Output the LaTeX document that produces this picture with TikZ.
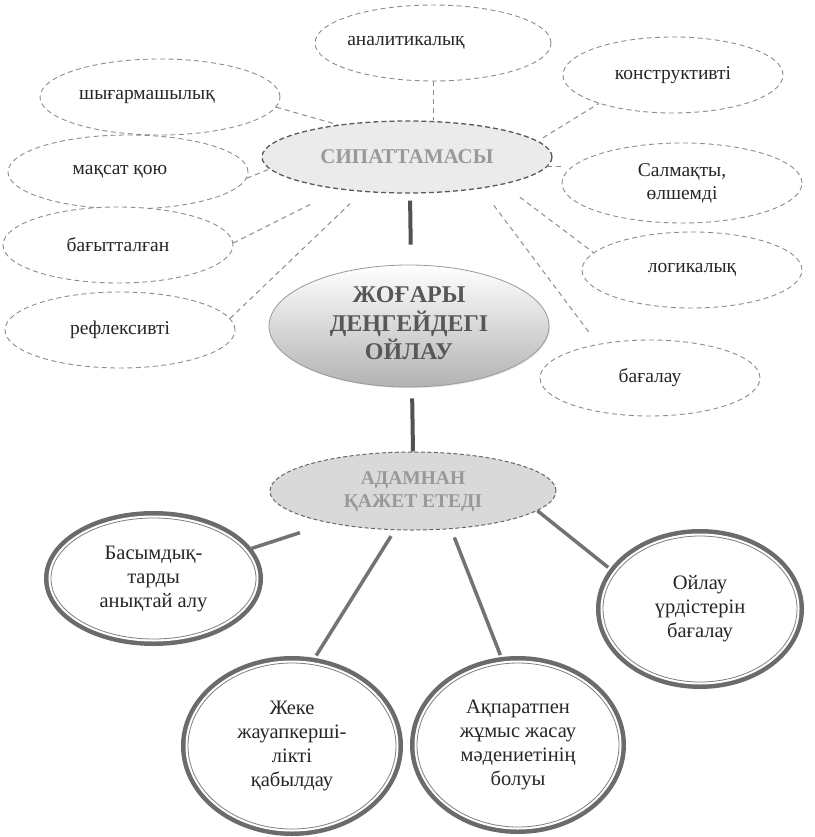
\documentclass[tikz,border=0pt]{standalone}
\usepackage{fontspec}
\setmainfont{Liberation Serif}
\newfontfamily\kzserif[Script=Cyrillic]{Liberation Serif}
\usetikzlibrary{shapes.geometric,shadows}
\begin{document}
\begin{tikzpicture}[x=1pt,y=-1pt,
  small/.style={ellipse, draw=black!45, dash pattern=on 5pt off 3.5pt, line width=0.9pt,
    fill=white, inner sep=0pt, align=center, text=black!85,
    font=\kzserif\fontsize{19.5}{23}\selectfont},
  sip/.style={ellipse, draw=black!65, dash pattern=on 5pt off 3pt, line width=1.3pt,
    fill=black!8, inner sep=0pt, align=center, text=black!40,
    font=\kzserif\fontsize{21}{24}\selectfont\bfseries},
  cen/.style={ellipse, draw=black!40, line width=0.8pt, top color=white, bottom color=black!30,
    drop shadow={shadow xshift=1pt, shadow yshift=-1.2pt, opacity=0.2},
    inner sep=0pt, align=center, text=black!66,
    font=\kzserif\fontsize{24}{27}\selectfont\bfseries},
  adm/.style={ellipse, draw=black!60, dash pattern=on 4pt off 2.5pt, line width=1pt,
    fill=black!15, inner sep=0pt, align=center, text=black!40,
    font=\kzserif\fontsize{19.5}{23}\selectfont\bfseries},
  dbl/.style={ellipse, inner sep=0pt, align=center, text=black!85,
    font=\kzserif\fontsize{20.5}{24}\selectfont, fill=white, draw=black!50, line width=0.8pt,
    preaction={draw=black!58, line width=14pt},
    preaction={draw=white, line width=5pt}},
  dcon/.style={draw=black!45, line width=1pt, dash pattern=on 5pt off 4pt},
  tcon/.style={draw=black!68, line width=4pt},
  bcon/.style={draw=black!55, line width=3.5pt}
]
\useasboundingbox (0,0) rectangle (814,837);

% characteristic ellipses
\node[small, minimum width=236pt, minimum height=76pt] (an) at (433,43) {\hspace*{-54pt}аналитикалық};
\node[small, minimum width=240pt, minimum height=76pt] (sh) at (160,97) {\hspace*{-26pt}шығармашылық};
\node[small, minimum width=220pt, minimum height=76pt] (ko) at (673,75) {конструктивті};
\node[small, minimum width=240pt, minimum height=74pt] (mq) at (128,172) {\hspace*{-16pt}мақсат қою};
\node[small, minimum width=240pt, minimum height=80pt] (sa) at (682,183) {Салмақты,\\өлшемді};
\node[small, minimum width=230pt, minimum height=76pt] (bt) at (118,245) {бағытталған};
\node[small, minimum width=220pt, minimum height=76pt] (lo) at (692,270) {логикалық};
\node[small, minimum width=230pt, minimum height=76pt] (re) at (120,330) {рефлексивті};
\node[small, minimum width=220pt, minimum height=76pt] (bg) at (650,378) {бағалау};

% main ellipses
\node[sip, minimum width=290pt, minimum height=72pt] (si) at (407,157) {СИПАТТАМАСЫ};
\node[cen, minimum width=280pt, minimum height=122pt] (ce) at (409,326)
  {\raisebox{5pt}{\begin{tabular}{@{}c@{}}ЖОҒАРЫ\\ДЕҢГЕЙДЕГІ\\ОЙЛАУ\end{tabular}}};
\node[adm, minimum width=286pt, minimum height=78pt] (ad) at (413,491)
  {\raisebox{-5pt}{\begin{tabular}{@{}c@{}}АДАМНАН\\ҚАЖЕТ ЕТЕДІ\end{tabular}}};

% double ellipses
\node[dbl, minimum width=205pt, minimum height=121pt] (b1) at (153.5,578.5) {Басымдық-\\тарды\\анықтай алу};
\node[dbl, minimum width=208pt, minimum height=166pt] (b2) at (292,746) {Жеке\\жауапкерші-\\лікті\\қабылдау};
\node[dbl, minimum width=202pt, minimum height=164pt] (b3) at (518,745) {Ақпаратпен\\жұмыс жасау\\мәдениетінің\\болуы};
\node[dbl, minimum width=194pt, minimum height=146pt] (b4) at (700,609) {Ойлау\\үрдістерін\\бағалау};

% dashed connectors
\draw[dcon] (an.south) -- (an.south |- si.north);
\draw[dcon] (sh.-5) -- (si.155);
\draw[dcon, shorten <=6pt] (si.7) -- (ko.201);
\draw[dcon] (si.-4) -- (si.-4 -| sa.west);
\draw[dcon] (mq.-3) -- (si.185);
\draw[dcon, shorten >=30pt] (bt.1) -- (si.206);
\draw[dcon, shorten >=17pt] (re.6) -- (si.218);
\draw[dcon, shorten <=21pt] (si.-16) -- (lo.170);
\draw[dcon, shorten <=21pt, shorten >=12pt] (si.-23) -- (bg.147);

% solid connectors
\draw[tcon, shorten <=7pt, shorten >=20pt] ([xshift=3pt]si.south) -- ([xshift=2pt]ce.north);
\draw[tcon, shorten <=11pt] ([xshift=3pt]ce.south) -- (ad.north);
\draw[bcon, shorten <=31pt, shorten >=7pt] (ad.201) -- (b1.17);
\draw[bcon, shorten <=7pt, shorten >=10pt] (ad.245) -- (b2.77);
\draw[bcon, shorten <=9pt, shorten >=9pt] (ad.-45) -- (b3.100);
\draw[bcon, shorten >=9pt] (ad.-9) -- (b4.157);
\end{tikzpicture}
\end{document}
